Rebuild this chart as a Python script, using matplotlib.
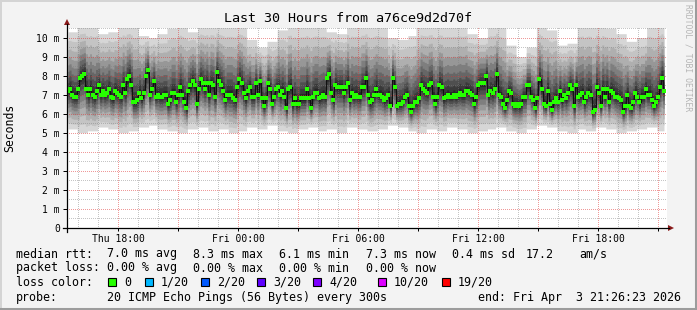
import numpy as np
import matplotlib
matplotlib.use("Agg")
import matplotlib.pyplot as plt
from matplotlib.patches import Rectangle, Polygon

plt.rcParams['font.family'] = ['DejaVu Sans Mono']

# ===== DATA =====

# median rtt in ms, one value per green dot, left to right
median_ms = [
    7.2, 7.3, 7.0, 6.9, 6.9, 7.3, 7.9, 8.0, 8.1, 7.3, 7.0, 7.3, 7.0, 6.9, 7.2, 7.5,
    7.0, 7.2, 7.0, 7.1, 7.3, 6.9, 6.8, 7.2, 7.1, 7.0, 6.9, 7.5, 7.1, 7.8, 8.0, 7.5,
    6.6, 6.6, 6.7, 7.1, 6.8, 7.1, 8.0, 8.3, 7.0, 7.3, 7.7, 6.9, 7.0, 6.9, 6.9,
    7.0, 7.0, 6.5, 6.7, 7.1, 7.1, 6.6, 7.0, 7.4, 7.0, 6.6, 6.3, 7.2, 7.5, 7.7, 7.5,
    6.5, 7.3, 7.8, 7.6, 7.3, 7.6, 7.0, 7.6, 7.5, 6.9, 8.2, 7.7, 7.5, 7.2, 6.7, 7.0,
    7.0, 7.0, 6.8, 6.7, 7.4, 7.8, 7.6, 7.1, 6.8, 7.2, 7.4, 6.9, 6.9, 7.6, 7.0, 7.7,
    6.8, 6.4, 6.8, 7.6,
    7.3, 6.5, 6.9, 7.3, 7.4, 7.0, 7.2, 6.9, 6.3, 7.3, 7.4, 6.5, 6.8, 6.5, 6.5, 6.8,
    6.8, 6.8, 7.3, 6.8, 6.3, 6.9, 7.1, 7.1, 6.8, 6.9, 7.0, 6.9, 7.9, 8.1, 7.1, 6.7,
    7.5, 7.4, 7.4, 7.4, 7.1, 7.4, 7.6, 6.7, 7.1, 6.9, 7.0, 6.9, 6.9, 7.4, 7.4, 7.9,
    7.0, 6.6, 6.7, 7.0, 7.3,
    7.0, 7.0, 6.9, 6.7, 6.8, 7.0, 6.4, 7.9, 7.4, 6.4, 6.5, 6.5, 6.6, 6.9, 7.0, 6.4,
    6.1, 6.4, 6.6, 6.6, 6.8, 7.5, 7.3, 7.2, 7.1, 7.5, 7.6, 6.9, 6.5, 6.9, 7.5, 7.4,
    6.8, 6.9, 7.0, 6.9, 6.9, 7.0, 6.9, 7.0, 7.1, 7.0, 7.0, 7.2, 7.2, 7.1, 7.0, 6.5,
    6.9, 7.5, 7.6, 7.6,
    7.6, 8.0, 7.0, 7.2, 7.1, 7.3, 8.1, 7.0, 6.9, 6.5, 6.3, 6.7, 7.2, 7.1, 6.5, 6.4,
    6.5, 6.4, 6.5, 6.9, 6.9, 7.5, 7.5, 6.9, 6.7, 6.3, 6.8, 7.8, 7.3, 6.5, 6.4, 7.2,
    6.5, 6.2, 6.6, 6.8, 6.6, 7.2, 6.7, 7.0, 6.8, 7.1, 7.5, 7.3, 6.4, 7.5, 6.9, 7.0,
    7.1, 6.6, 6.9, 7.1, 7.0, 6.1,
    6.2, 7.4, 7.1, 6.4, 7.3, 6.9, 7.3, 6.6, 7.2, 7.1, 6.9, 6.9, 6.8, 6.7, 6.1, 6.4,
    7.0, 6.4, 6.3, 6.6, 7.1, 6.9, 6.6, 6.9, 6.9, 7.3, 7.0, 7.0, 6.7, 6.4, 6.6, 6.9,
    7.4, 7.9, 7.2,
]

# smoke envelope (slowest / fastest ping), one value per half hour
ping_max_ms = [
    10.3, 10.6, 10.6, 10.2, 10.3, 10.6, 10.6, 10.1, 10.0, 10.2,
    10.5, 10.6, 10.3, 10.6, 10.6, 10.6, 10.6, 10.6, 9.9, 9.5,
    9.8, 10.4, 10.6, 10.6, 10.6, 10.6, 10.3, 10.2, 10.6, 10.6,
    10.6, 10.6, 10.0, 9.9, 10.1, 10.6, 10.6, 10.6, 10.6, 10.6,
    10.2, 10.0, 10.6, 10.6, 9.6, 9.0, 9.5, 10.6, 10.4, 9.6,
    9.7, 10.6, 10.6, 10.6, 10.5, 10.2, 9.8, 10.0, 10.6, 10.6,
]
ping_min_ms = [
    5.2, 5.0, 5.1, 5.3, 5.2, 5.0, 5.1, 5.3, 5.4, 5.2,
    5.1, 5.0, 5.2, 5.3, 5.1, 5.2, 5.0, 5.1, 5.3, 5.2,
    5.4, 5.1, 5.0, 5.2, 5.3, 5.1, 5.2, 5.0, 5.3, 5.2,
    5.1, 5.2, 5.4, 5.3, 5.1, 5.0, 5.2, 5.1, 5.3, 5.2,
    5.0, 5.1, 5.2, 5.3, 5.1, 5.0, 5.2, 5.4, 5.3, 5.1,
    5.0, 5.2, 5.1, 5.3, 5.2, 5.0, 5.1, 5.2, 5.3, 5.1,
]

hours_span = 30
start_hour = 15 + 26 / 60 + 23 / 3600      # Thu 15:26:23
x_labels = ["Thu 18:00", "Fri 00:00", "Fri 06:00", "Fri 12:00", "Fri 18:00"]
y_labels = ["0"] + [f"{v} m" for v in range(1, 11)]

loss_names = ["0", "1/20", "2/20", "3/20", "4/20", "10/20", "19/20"]
loss_colors = ["#26ff00", "#00b8ff", "#0059ff", "#5e00ff", "#7e00ff", "#dd00ff", "#ff0000"]

# ===== FIGURE =====
W, H = 697, 310
PW, PH = 600, 200                 # plot area in pixels
y_top = 10.5
fig = plt.figure(figsize=(W / 100, H / 100), dpi=100, facecolor="#f3f3f3")
ax = fig.add_axes([67 / W, (H - 228) / H, PW / W, PH / H])
ax.set_facecolor("white")

med = np.array(median_ms)
n = len(med)
x = (np.arange(n) + 0.5) * (hours_span - 0.1) / n
col = (np.arange(n) * len(ping_max_ms)) // n
hi = np.array(ping_max_ms)[col]
lo = np.array(ping_min_ms)[col]

# smoke: nested bands, light outside, dark near the median
band_f = [1.0, 0.85, 0.70, 0.56, 0.44, 0.33, 0.23, 0.14, 0.07]
band_c = ["#d6d6d6", "#c4c4c4", "#afafaf", "#979797", "#7e7e7e",
          "#666666", "#4f4f4f", "#3a3a3a", "#262626"]
for f, c in zip(band_f, band_c):
    ax.fill_between(x, med - (med - lo) * f, med + (hi - med) * f,
                    step="mid", color=c, lw=0, zorder=1)

# dotted grid, pixel exact (one on, one off), laid over the smoke like rrdtool
grid = np.zeros((PH, PW, 4))
major_rgba = (0.88, 0.2, 0.2, 0.5)
minor_rgba = (0.5, 0.5, 0.5, 0.45)
first_hour = np.ceil(start_hour) - start_hour
for h in np.arange(first_hour, hours_span, 1.0):
    r = (h + start_hour) % 3
    major = r < 1e-6 or abs(r - 3) < 1e-6
    c = int(round(h * PW / hours_span))
    if c < PW:
        grid[::2, c] = major_rgba if major else minor_rgba
for v in np.arange(0.5, 10.6, 0.5):
    major = abs(v - round(v)) < 1e-6
    r = int(round((y_top - v) * PH / y_top))
    if 0 <= r < PH:
        grid[r, ::2] = major_rgba if major else minor_rgba
ax.imshow(grid, extent=(0, hours_span, 0, y_top), aspect="auto",
          interpolation="nearest", zorder=2)

ax.plot(x, med, drawstyle="steps-mid", color="#111111", lw=0.8, zorder=3)
ax.plot(x, med, ls="none", marker="s", ms=2.3, mew=0, color="#26ff00", zorder=4)

ax.set_xlim(0, hours_span)
ax.set_ylim(0, y_top)
for s in ax.spines.values():
    s.set_visible(False)

label_hours = [18 - start_hour + 6 * k for k in range(5)]
tick_hours = [18 - start_hour + 3 * k - 3 for k in range(11)]
tick_hours = [t for t in tick_hours if 0 < t < hours_span]
ax.set_xticks(tick_hours)
ax.set_xticklabels([x_labels[label_hours.index(t)] if t in label_hours else "" for t in tick_hours])
ax.set_yticks(range(11))
ax.set_yticklabels(y_labels)
ax.tick_params(axis="x", length=2.2, width=0.72, pad=2, labelsize=7, color="black")
ax.tick_params(axis="y", length=2.9, width=0.72, pad=2.2, labelsize=7, color="black")

# ===== overlay in pixel coords: axes lines, arrows, texts =====
ov = fig.add_axes([0, 0, 1, 1])
ov.set_xlim(0, W)
ov.set_ylim(H, 0)
ov.axis("off")
ov.patch.set_alpha(0)

ov.plot([67, 67], [232, 24], color="black", lw=0.9)
ov.plot([63, 669], [228, 228], color="black", lw=0.9)
ov.add_patch(Polygon([[64, 25], [70, 25], [67, 19]], closed=True, color="#8b1a1a", lw=0))
ov.add_patch(Polygon([[668, 225], [668, 231], [674, 228]], closed=True, color="#8b1a1a", lw=0))

# frame
ov.plot([0.5, W - 0.5], [0.5, 0.5], color="#d4d4d4", lw=1.4)
ov.plot([0.5, 0.5], [0, H], color="#d4d4d4", lw=1.4)
ov.plot([0, W], [H - 1.5, H - 1.5], color="#9c9c9c", lw=2.2)
ov.plot([W - 1.5, W - 1.5], [0, H], color="#9c9c9c", lw=2.2)

ov.text(348, 19, "Last 30 Hours from a76ce9d2d70f", ha="center", va="center", fontsize=9.6)
ov.text(10, 128, "Seconds", ha="center", va="center", rotation=90, fontsize=8.3)
ov.text(688, 4, "RRDTOOL / TOBI OETIKER", ha="center", va="top", rotation=-90,
        fontsize=5.8, color="#b5b5b5")

fs = 8.35
rows = [
    (254, [(16, "median rtt:"), (107, "7.0 ms avg"), (193, "8.3 ms max"), (279, "6.1 ms min"),
           (366, "7.3 ms now"), (452, "0.4 ms sd"), (526, "17.2"), (579, "am/s")]),
    (268, [(16, "packet loss:"), (107, "0.00 % avg"), (193, "0.00 % max"), (279, "0.00 % min"),
           (366, "0.00 % now")]),
    (282, [(16, "loss color:")]),
    (297, [(16, "probe:"), (107, "20 ICMP Echo Pings (56 Bytes) every 300s"),
           (478, "end: Fri Apr  3 21:26:23 2026")]),
]
for y, items in rows:
    for xp, t in items:
        ov.text(xp, y, t, ha="left", va="center", fontsize=fs)

loss_x = [108, 145, 201, 257, 313, 378, 442]
for xp, name, c in zip(loss_x, loss_names, loss_colors):
    ov.add_patch(Rectangle((xp, 278), 8, 8, facecolor=c, edgecolor="black", lw=0.8))
    ov.text(xp + 16, 282, name, ha="left", va="center", fontsize=fs)

fig.savefig("out.png", dpi=100, facecolor=fig.get_facecolor())
